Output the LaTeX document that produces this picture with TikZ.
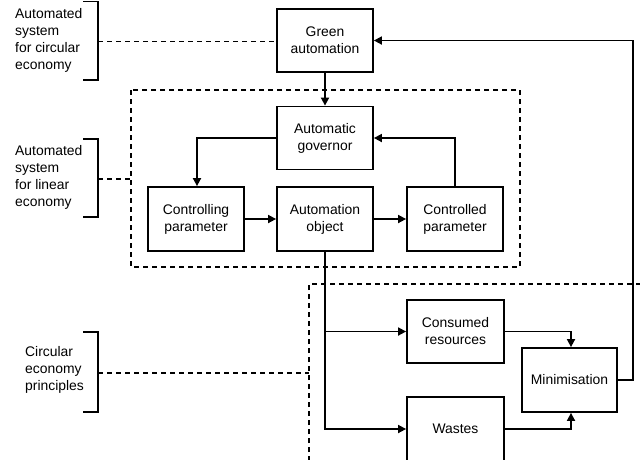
\documentclass[tikz,border=0pt]{standalone}
\usepackage{fontspec}
\setmainfont{Liberation Sans}
\usetikzlibrary{arrows.meta}
\newcommand\lblfont{\fontsize{13.9}{17}\selectfont}
\tikzset{
  box/.style={draw, line width=1.8pt, minimum width=96pt, minimum height=63pt,
              align=center, font=\lblfont, inner sep=0pt},
  arr/.style={line width=1.7pt, -{Triangle[length=8pt,width=8pt]}},
  dashline/.style={line width=1.6pt, dash pattern=on 5pt off 4pt},
  bracket/.style={line width=1.8pt},
  side/.style={align=left, anchor=west, font=\lblfont, inner sep=0pt}
}
\begin{document}
\begin{tikzpicture}[x=1pt, y=-1pt]
\useasboundingbox (0,0) rectangle (640,459);
\clip (0,0) rectangle (640,459);
\fill[white] (0,0) rectangle (640,459);

% blocks
\node[box] (green) at (325,40.5) {Green\\automation};
\node[box] (gov)   at (325,138)  {Automatic\\governor};
\node[box, minimum height=64pt] (ctrl) at (196,219) {Controlling\\parameter};
\node[box, minimum height=64pt] (obj)  at (325,219) {Automation\\object};
\node[box, minimum height=64pt] (ctrd) at (455,219) {Controlled\\parameter};
\node[box, minimum width=97pt] (cons) at (455.5,331.5) {Consumed\\resources};
\node[box, minimum width=97pt, minimum height=64pt] (waste) at (455.5,429) {Wastes};
\node[box, minimum width=95pt, minimum height=64pt] (mini) at (569.5,380) {Minimisation};

% dashed groupings
\draw[dashline] (131,90) rectangle (520,267);
\draw[dashline] (309,470) -- (309,284) -- (650,284);

% side labels with brackets
\node[side] (lab1) at (15,40.5) {Automated\\system\\for circular\\economy};
\node[side] (lab2) at (15,177.5) {Automated\\system\\for linear\\economy};
\node[side] (lab3) at (25,370) {Circular\\economy\\principles};

\draw[bracket] (83,1.5) -- (98,1.5) -- (98,80) -- (83,80);
\draw[bracket] (83,139) -- (98,139) -- (98,217) -- (83,217);
\draw[bracket] (83,332) -- (98,332) -- (98,412) -- (83,412);

\coordinate (b1) at (98,41.5);
\coordinate (b2) at (98,179);
\coordinate (b3) at (98,373);
\draw[dashline] (b1) -- (green.west |- b1);
\draw[dashline] (b2) -- (131,179);
\draw[dashline] (b3) -- (309,373);

% control loop
\draw[arr] (green.south) -- (gov.north);
\draw[arr] (gov.west) -| ([xshift=1pt]ctrl.north);
\draw[arr] (ctrl.east) -- (obj.west);
\draw[arr] (obj.east) -- (ctrd.west);
\draw[arr] (ctrd.north) |- (gov.east);

% flows to resources and wastes
\draw[arr] (obj.south) |- (waste.west);
\draw[arr] (obj.south |- cons.west) -- (cons.west);
\draw[arr] (cons.east) -| ([xshift=1.5pt]mini.north);
\draw[arr] (waste.east) -| ([xshift=1.5pt]mini.south);

% feedback to green automation
\draw[arr] (mini.east) -- (633,380) |- (green.east);
\end{tikzpicture}
\end{document}
